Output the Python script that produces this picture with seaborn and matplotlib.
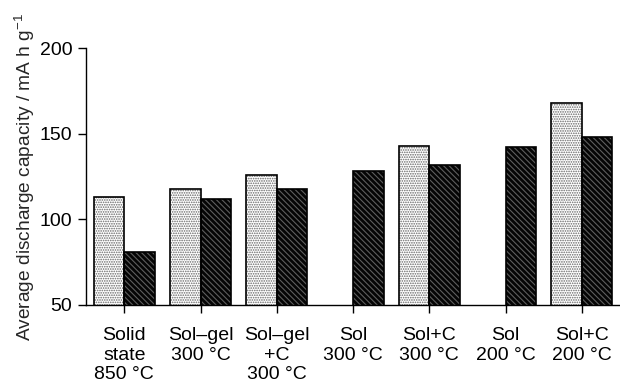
#!/usr/bin/env python
# -*- coding: utf-8 -*-
"""Average discharge capacity by synthesis route (grouped bar chart)."""

import matplotlib
matplotlib.use("Agg")
import matplotlib.pyplot as plt
import seaborn as sns
import pandas as pd

# data
categories = ["Solid\nstate\n850 °C", "Sol\u2013gel\n300 °C", "Sol\u2013gel\n+C\n300 °C",
              "Sol\n300 °C", "Sol+C\n300 °C", "Sol\n200 °C", "Sol+C\n200 °C"]
series_a = [113, 118, 126, None, 143, None, 168]   # light stippled bars
series_b = [81, 112, 118, 128, 132, 142, 148]      # dark hatched bars
series_names = ["A", "B"]

sns.set_theme(style="white")
plt.rcParams.update({
    "font.family": ["Liberation Sans", "DejaVu Sans"],
    "font.size": 14,
    "mathtext.default": "regular",
    "hatch.linewidth": 0.8,
})

rows = []
for cat, a, b in zip(categories, series_a, series_b):
    if a is not None:
        rows.append({"cat": cat, "series": "A", "value": a})
    if b is not None:
        rows.append({"cat": cat, "series": "B", "value": b})
df = pd.DataFrame(rows)

fig = plt.figure(figsize=(6.2, 3.83), dpi=100)
ax = fig.add_axes([0.139, 0.204, 0.861, 0.670])

sns.barplot(data=df, x="cat", y="value", hue="series", hue_order=series_names,
            order=categories, ax=ax, width=0.8, errorbar=None, legend=False,
            palette=["white", "#111111"])

# hatch styling: light stipple and dark diagonal hatching
for container, (face, hcol, hatch) in zip(ax.containers,
                                          [("white", "#666666", "......."),
                                           ("#050505", "#5e5e5e", "\\\\\\\\\\\\")]):
    for p in container.patches:
        p.set_facecolor(face)
        p.set_edgecolor(hcol)
        p.set_hatch(hatch)
        p.set_linewidth(0)
        ax.add_patch(plt.Rectangle(p.get_xy(), p.get_width(), p.get_height(),
                                   fill=False, edgecolor="black", linewidth=1.2))

ax.set_ylim(50, 200)
ax.set_xlim(-0.5, 6.5)
ax.set_yticks([50, 100, 150, 200])
ax.set_xlabel("")
ax.set_ylabel("Average discharge capacity / mA h g$^{-1}$", fontsize=13.8, labelpad=2)

for s in ["top", "right"]:
    ax.spines[s].set_visible(False)
for s in ["left", "bottom"]:
    ax.spines[s].set_color("black")
    ax.spines[s].set_linewidth(1.0)

ax.tick_params(axis="both", which="major", direction="out", length=6, width=1.0,
               color="black", labelsize=14, labelcolor="black",
               bottom=True, left=True)
ax.tick_params(axis="x", pad=10)
ax.tick_params(axis="y", pad=4)
for lab in ax.get_xticklabels():
    lab.set_linespacing(1.2)
    lab.set_verticalalignment("top")

fig.savefig("out.png", dpi=100)
plt.close(fig)
